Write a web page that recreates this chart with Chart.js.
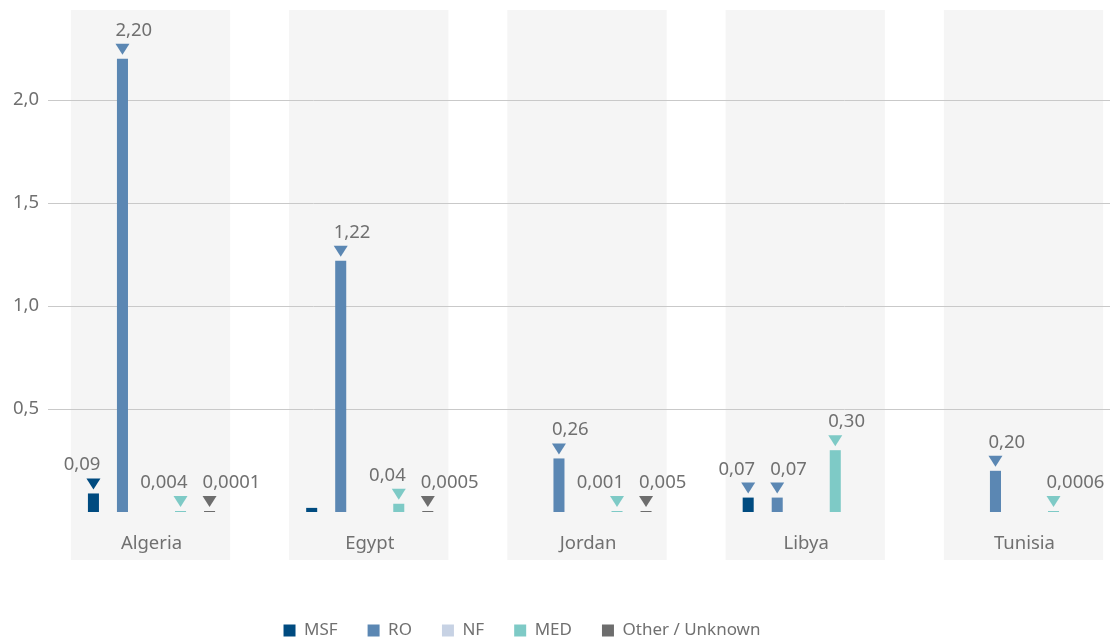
<!DOCTYPE html>
<html>
<head>
<meta charset="utf-8">
<script src="https://cdn.jsdelivr.net/npm/chart.js@4.4.1/dist/chart.umd.min.js"></script>
<style>
    html, body { margin: 0; padding: 0; background: #fff; }
    #wrap { width: 1110px; height: 642px; }
</style>
</head>
<body>
<div id="wrap"><canvas id="chart"></canvas></div>
<script>
// ========================================
// Data
// ========================================
const countries = ['Algeria', 'Egypt', 'Jordan', 'Libya', 'Tunisia'];
const seriesNames = ['MSF', 'RO', 'NF', 'MED', 'Other / Unknown'];
const msf   = [0.09, 0.02, null, 0.07, null];
const ro    = [2.20, 1.22, 0.26, 0.07, 0.20];
const nf    = [null, null, null, null, null];
const med   = [0.004, 0.04, 0.001, 0.30, 0.0006];
const other = [0.0001, 0.0005, 0.005, null, null];
const yTicks = [0.5, 1.0, 1.5, 2.0];

// ========================================
// Styling
// ========================================
const colors = ['#004b80', '#5b87b3', '#c7d2e4', '#7ecac6', '#6d6d6d'];
const TEXT = '#707070';
const FONT = "'Noto Sans', sans-serif";
const SIZE = 18.5;

// value labels, keyed "dataset:index"
const hiddenLabels = ['0:1'];
const rightAligned = ['0:0', '0:3', '3:0', '3:1', '3:2'];
const markerColors = { '0:3': colors[1] };

// 2 decimals minimum, more when the value needs them
const fmt = (v) => {
    let d = 2;
    while (d < 6 && Number(v.toFixed(d)) !== v) d++;
    return v.toFixed(d).replace('.', ',');
};

// Grey column behind each country
const bandPlugin = {
    id: 'bands',
    beforeDraw(chart) {
        const { ctx, chartArea, scales: { x } } = chart;
        const half = (x.getPixelForValue(1) - x.getPixelForValue(0)) * 0.365;
        ctx.save();
        ctx.fillStyle = '#f5f5f5';
        countries.forEach((c, i) => {
            const cx = x.getPixelForValue(i) - 1;
            ctx.fillRect(cx - half, chartArea.top, half * 2, chartArea.bottom + 48 - chartArea.top);
        });
        ctx.restore();
    }
};

// Triangle marker + value text above every bar
const valueLabelPlugin = {
    id: 'valueLabels',
    afterDatasetsDraw(chart) {
        const { ctx } = chart;
        ctx.save();
        ctx.font = `${SIZE}px ${FONT}`;
        ctx.textBaseline = 'alphabetic';
        chart.data.datasets.forEach((ds, di) => {
            const meta = chart.getDatasetMeta(di);
            meta.data.forEach((bar, i) => {
                const v = ds.data[i].y;
                const key = `${di}:${i}`;
                if (v == null || hiddenLabels.includes(key)) return;
                const top = bar.y;
                const cx = bar.x;

                ctx.fillStyle = markerColors[key] || colors[di];
                ctx.beginPath();
                ctx.moveTo(cx - 7, top - 15);
                ctx.lineTo(cx + 7, top - 15);
                ctx.lineTo(cx, top - 4);
                ctx.closePath();
                ctx.fill();

                ctx.fillStyle = TEXT;
                if (rightAligned.includes(key)) {
                    ctx.textAlign = 'right';
                    ctx.fillText(fmt(v), cx + 7, top - 23);
                } else {
                    ctx.textAlign = 'left';
                    ctx.fillText(fmt(v), cx - 7, top - 23);
                }
            });
        });
        ctx.restore();
    }
};

// Legend sits a little left of centre and near the bottom edge
const legendNudge = {
    id: 'legendNudge',
    afterLayout(chart) {
        const lg = chart.legend;
        lg.left -= 33;
        lg.right -= 33;
        lg.top += 7;
        lg.bottom += 7;
    }
};

const series = [msf, ro, nf, med, other];

new Chart(document.getElementById('chart'), {
    type: 'bar',
    data: {
        datasets: seriesNames.map((name, k) => ({
            label: name,
            data: series[k].map((v, i) => ({ x: i, y: v })),
            backgroundColor: colors[k],
            barPercentage: 0.38,
            categoryPercentage: 0.665,
            minBarLength: 1
        }))
    },
    options: {
        responsive: true,
        maintainAspectRatio: false,
        animation: false,
        devicePixelRatio: 1,
        layout: { padding: { top: 10, bottom: 0, left: 0, right: 0 } },
        scales: {
            x: {
                type: 'linear',
                offset: false,
                min: -0.4742,
                max: 4.3918,
                grid: { display: false, drawTicks: false, offset: false },
                border: { display: false },
                afterBuildTicks: (s) => { s.ticks = countries.map((c, i) => ({ value: i })); },
                afterFit: (s) => { s.height = 73; s.paddingLeft = 0; s.paddingRight = 0; },
                ticks: {
                    padding: 21,
                    maxRotation: 0,
                    autoSkip: false,
                    color: TEXT,
                    font: { family: FONT, size: SIZE },
                    callback: (v) => countries[v]
                }
            },
            y: {
                min: 0,
                max: 2.437,
                afterBuildTicks: (s) => { s.ticks = yTicks.map(v => ({ value: v })); },
                afterFit: (s) => { s.width = 48; s.paddingTop = 0; s.paddingBottom = 0; },
                grid: { color: '#c9c9c9', drawTicks: false, lineWidth: 1 },
                border: { display: false },
                ticks: {
                    padding: 9,
                    color: TEXT,
                    font: { family: FONT, size: SIZE },
                    callback: (v) => v.toFixed(1).replace('.', ',')
                }
            }
        },
        plugins: {
            legend: {
                position: 'bottom',
                labels: {
                    boxWidth: 12,
                    boxHeight: 12,
                    padding: 30,
                    color: TEXT,
                    font: { family: FONT, size: 17 }
                }
            },
            tooltip: { enabled: false }
        }
    },
    plugins: [bandPlugin, valueLabelPlugin, legendNudge]
});
</script>
</body>
</html>
